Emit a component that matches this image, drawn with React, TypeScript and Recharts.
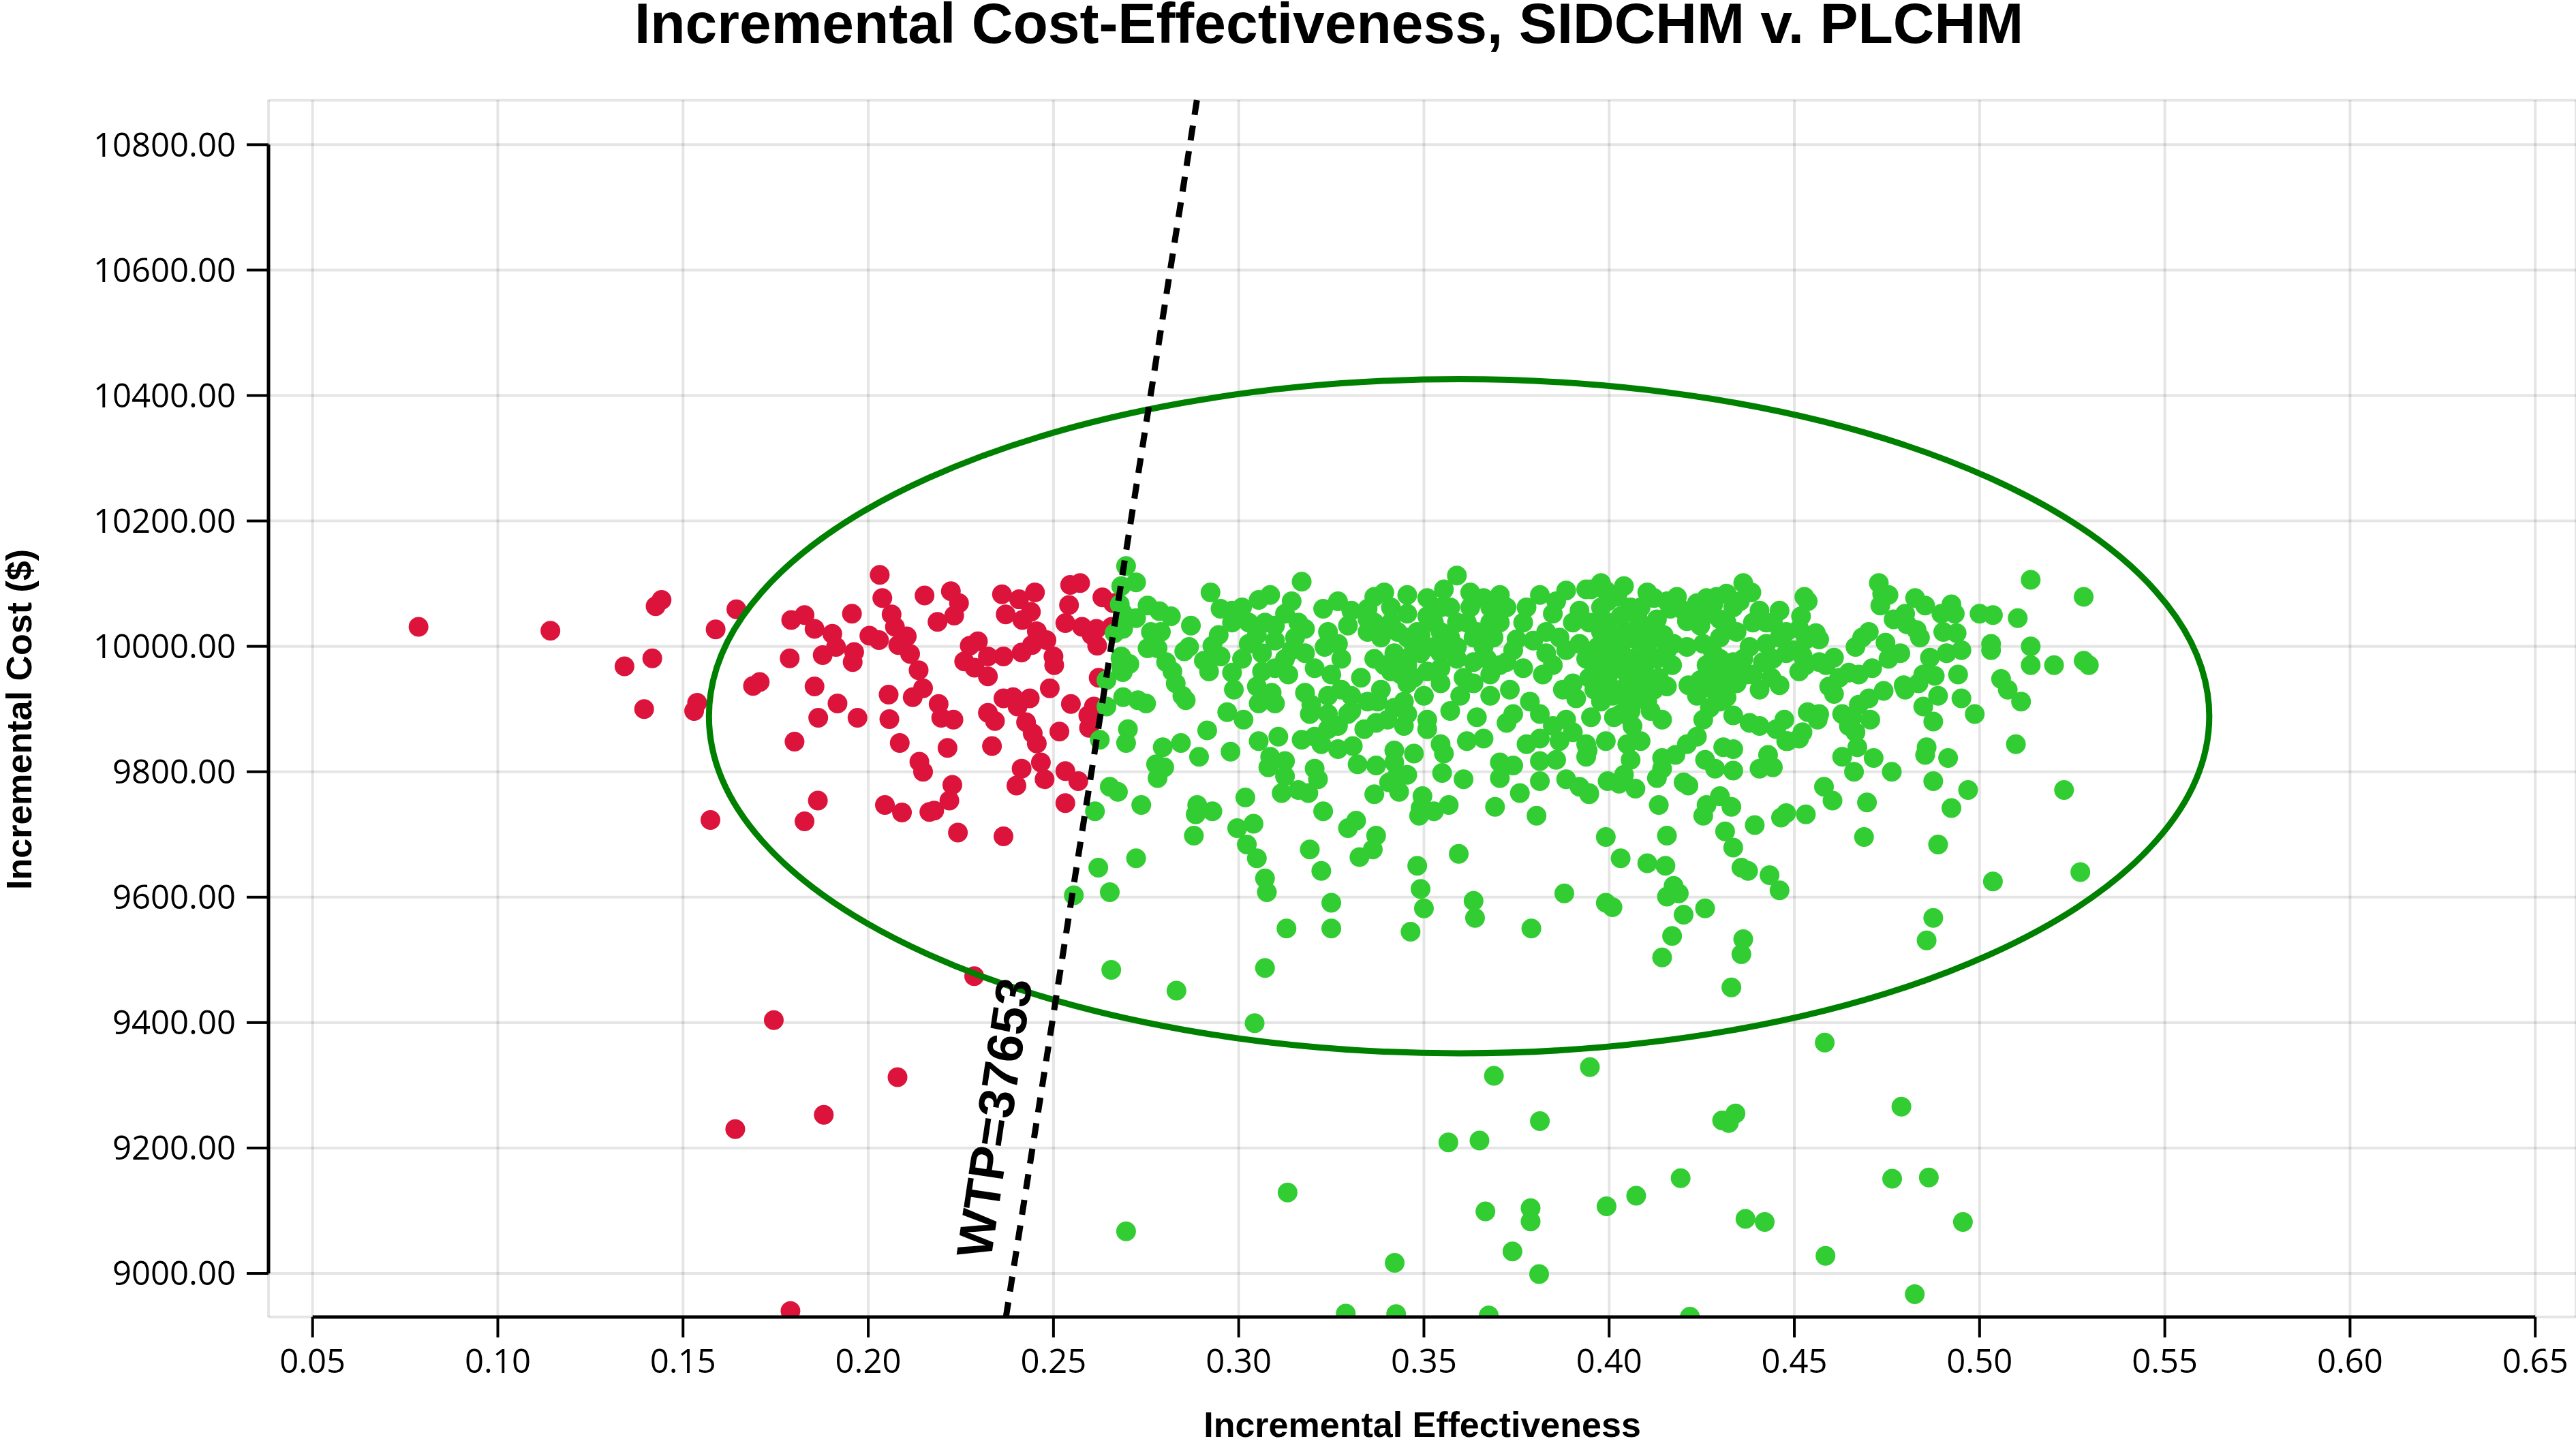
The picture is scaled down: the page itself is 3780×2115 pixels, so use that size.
import {
  CartesianGrid,
  ReferenceArea,
  ReferenceDot,
  ReferenceLine,
  Scatter,
  ScatterChart,
  XAxis,
  YAxis,
} from "recharts";

// incremental effectiveness / incremental cost pairs
// red = above the willingness-to-pay line, green = below it
const redPoints: [number, number][] = [
  [0.0786, 10031], [0.1142, 10025], [0.1442, 10074], [0.1426, 10064], [0.1342, 9968],
  [0.1417, 9981], [0.1395, 9900], [0.1538, 9910], [0.1530, 9897], [0.1644, 10059],
  [0.1588, 10027], [0.1689, 9937], [0.1707, 9943], [0.1792, 10042], [0.1828, 10050],
  [0.1855, 10028], [0.1903, 10020], [0.1956, 10052], [0.2031, 10114], [0.2038, 10077],
  [0.2063, 10051], [0.2072, 10031], [0.2104, 10016], [0.2003, 10017], [0.2029, 10010],
  [0.2081, 10002], [0.2152, 10081], [0.2223, 10088], [0.2245, 10069], [0.2232, 10049],
  [0.2187, 10039], [0.2361, 10083], [0.2407, 10075], [0.2450, 10086], [0.2545, 10098],
  [0.2542, 10066], [0.2632, 10078], [0.2371, 10051], [0.2416, 10042], [0.2439, 10055],
  [0.2532, 10037], [0.2577, 10031], [0.2616, 10028], [0.2657, 10031], [0.2455, 10024],
  [0.2481, 10010], [0.2442, 10002], [0.1913, 9999], [0.1877, 9986], [0.1962, 9991],
  [0.1958, 9975], [0.1788, 9981], [0.2113, 9988], [0.2136, 9962], [0.2274, 10001],
  [0.2296, 10008], [0.2259, 9976], [0.2287, 9966], [0.2323, 9952], [0.2323, 9984],
  [0.2365, 9984], [0.2414, 9990], [0.2500, 9984], [0.2502, 9970], [0.2618, 10001],
  [0.2622, 9950], [0.1855, 9936], [0.2148, 9933], [0.2055, 9923], [0.2120, 9919],
  [0.1917, 9909], [0.1865, 9886], [0.1971, 9886], [0.2057, 9884], [0.2190, 9908],
  [0.2197, 9886], [0.2230, 9883], [0.2365, 9917], [0.2391, 9919], [0.2403, 9904],
  [0.2436, 9917], [0.2323, 9894], [0.2342, 9881], [0.2426, 9879], [0.2444, 9861],
  [0.2455, 9845], [0.2490, 9933], [0.2547, 9908], [0.2609, 9904], [0.2594, 9890],
  [0.2596, 9870], [0.2516, 9864], [0.1801, 9848], [0.2085, 9846], [0.2214, 9838],
  [0.2334, 9841], [0.2138, 9816], [0.2148, 9800], [0.2227, 9779], [0.2219, 9754],
  [0.2178, 9738], [0.2165, 9736], [0.2091, 9735], [0.2045, 9747], [0.2414, 9805],
  [0.2400, 9778], [0.2466, 9815], [0.2476, 9788], [0.2532, 9801], [0.2567, 9785],
  [0.2532, 9750], [0.1864, 9754], [0.1828, 9721], [0.1574, 9723], [0.2242, 9703],
  [0.2365, 9697], [0.2661, 10069], [0.2603, 10018], [0.2572, 10101],
  [0.2286, 9474], [0.2079, 9313], [0.1745, 9404], [0.1641, 9230], [0.1880, 9253],
  [0.1790, 8940],
];

const greenPoints: [number, number][] = [
  // next to the WTP line
  [0.2696, 10128], [0.2723, 10102], [0.2683, 10096], [0.2679, 10067], [0.2754, 10065],
  [0.2786, 10056], [0.2817, 10048], [0.2723, 10045], [0.2688, 10028], [0.2665, 10021],
  [0.2763, 10023], [0.2790, 10023], [0.2754, 9997], [0.2781, 9997], [0.2683, 9984],
  [0.2705, 9972], [0.2683, 9965], [0.2804, 9975], [0.2821, 9960], [0.2830, 9941],
  [0.2643, 9946], [0.2848, 9921], [0.2857, 9914], [0.2688, 9919], [0.2728, 9914],
  [0.2750, 9909], [0.2643, 9904], [0.2701, 9868], [0.2696, 9846], [0.2625, 9851],
  [0.2795, 9839], [0.2844, 9846], [0.2777, 9812], [0.2799, 9807], [0.2781, 9790],
  [0.2915, 9866], [0.2893, 9824], [0.2978, 9832], [0.2652, 9776], [0.2674, 9768],
  [0.2737, 9747], [0.2612, 9737], [0.2888, 9747], [0.2884, 9732], [0.2929, 9737],
  [0.2879, 9698], [0.3018, 9759], [0.2996, 9710], [0.3040, 9717], [0.3022, 9684],
  [0.3049, 9662], [0.3071, 9630], [0.3076, 9608], [0.2723, 9662], [0.2621, 9647],
  [0.2652, 9608], [0.2656, 9484], [0.2555, 9603], [0.2687, 10053], [0.2681, 9981],
  [0.2687, 9959],
  // 0.29 - 0.40
  [0.2924, 10086], [0.2871, 10033], [0.2951, 10060], [0.3009, 10062], [0.3054, 10074],
  [0.3085, 10082], [0.3027, 10038], [0.3049, 10018], [0.2946, 10018], [0.2929, 10001],
  [0.2866, 9999], [0.2853, 9992], [0.2906, 9977], [0.2920, 9960], [0.2951, 9984],
  [0.2982, 9958], [0.3009, 9980], [0.2987, 9931], [0.2969, 9895], [0.3013, 9883],
  [0.3054, 9909], [0.3098, 9909], [0.3089, 9926], [0.3049, 9936], [0.3063, 9989],
  [0.3098, 10009], [0.3125, 10052], [0.3161, 10038], [0.3179, 10028], [0.3152, 10014],
  [0.3125, 9980], [0.3134, 9955], [0.3170, 10103], [0.3205, 9965], [0.3179, 9926],
  [0.3196, 9907], [0.3192, 9892], [0.3228, 10060], [0.3268, 10072], [0.3241, 10023],
  [0.3268, 10004], [0.3295, 10033], [0.3304, 10057], [0.3348, 10060], [0.3366, 10079],
  [0.3393, 10086], [0.3250, 9955], [0.3277, 9931], [0.3304, 9921], [0.3268, 9873],
  [0.3241, 9892], [0.3304, 9897], [0.3330, 9950], [0.3339, 9868], [0.3371, 9878],
  [0.3402, 9883], [0.3446, 9873], [0.3384, 9931], [0.3411, 9960], [0.3446, 9980],
  [0.3482, 10023], [0.3455, 10052], [0.3509, 10077], [0.3554, 10091], [0.3589, 10113],
  [0.3625, 10086], [0.3661, 10077], [0.3705, 10082], [0.3723, 10062], [0.3616, 10038],
  [0.3571, 10014], [0.3527, 10038], [0.3491, 9989], [0.3509, 9960], [0.3473, 9950],
  [0.3500, 9921], [0.3446, 9912], [0.3375, 9912], [0.3420, 9834], [0.3473, 9829],
  [0.3509, 9883], [0.3509, 9868], [0.3545, 9844], [0.3554, 9829], [0.3571, 9897],
  [0.3643, 9887], [0.3616, 9849], [0.3661, 9853], [0.3598, 9921], [0.3634, 9941],
  [0.3670, 9980], [0.3705, 9970], [0.3741, 9994], [0.3679, 9921], [0.3732, 9931],
  [0.3723, 9878], [0.3741, 9892], [0.3786, 9912], [0.3813, 9892], [0.3848, 9873],
  [0.3884, 9883], [0.3777, 9844], [0.3813, 9853], [0.3866, 9849], [0.3902, 9863],
  [0.3938, 9844], [0.3938, 9824], [0.3857, 9819], [0.3813, 9817], [0.3741, 9810],
  [0.3705, 9815], [0.3705, 9790], [0.3759, 9766], [0.3813, 9785], [0.3884, 9788],
  [0.3920, 9776], [0.3946, 9766], [0.3804, 9730], [0.3692, 9744], [0.3750, 10011],
  [0.3768, 10038], [0.3813, 10082], [0.3884, 10089], [0.3938, 10091], [0.3920, 10057],
  [0.3848, 10052], [0.3830, 10023], [0.3795, 10009], [0.3884, 9994], [0.3920, 10004],
  [0.3938, 9980], [0.3848, 9970], [0.3821, 9955], [0.3902, 9941], [0.3911, 9917],
  [0.3411, 10038], [0.3455, 10014], [0.3545, 10062], [0.3589, 10038], [0.3634, 10014],
  [0.3679, 10038], [0.3545, 9989], [0.3589, 9980], [0.3634, 9975], [0.3420, 9989],
  [0.3366, 9980], [0.3348, 10023], [0.3679, 10062], [0.3455, 10082], [0.3545, 10023],
  [0.3455, 9941], [0.3545, 9941], [0.3679, 9955], [0.3143, 10072], [0.3098, 10033],
  [0.3277, 9980], [0.3232, 9999],
  [0.3348, 10043], [0.3384, 10014], [0.3411, 10062], [0.3429, 10023], [0.3455, 9970],
  [0.3473, 9999], [0.3509, 10048], [0.3527, 9999], [0.3545, 9965], [0.3571, 10062],
  [0.3589, 9999], [0.3607, 9950], [0.3625, 10062], [0.3643, 10023], [0.3661, 9999],
  [0.3688, 10014], [0.3705, 10038], [0.3723, 9975], [0.3491, 10018], [0.3438, 9955],
  [0.3393, 9970], [0.3366, 10038], [0.2982, 10057], [0.3027, 10004], [0.3071, 10038],
  [0.3098, 9965], [0.3143, 9994], [0.3179, 9989], [0.3063, 9960], [0.2982, 10038],
  [0.3777, 10062], [0.3857, 10072], [0.3902, 10038], [0.3946, 10038], [0.3866, 10014],
  [0.3946, 9950], [0.3875, 9931], [0.3830, 9989], [0.3768, 9965], [0.3241, 9921],
  [0.3295, 9892], [0.3348, 9912], [0.3420, 9902], [0.3455, 9892], [0.3241, 9868],
  [0.3054, 9849], [0.3107, 9856], [0.3085, 9824], [0.3125, 9817], [0.3080, 9807],
  [0.3125, 9793], [0.3116, 9766], [0.3161, 9771], [0.3188, 9766], [0.3205, 9805],
  [0.3214, 9788], [0.3170, 9851], [0.3205, 9856], [0.3223, 9844], [0.3268, 9836],
  [0.3308, 9841], [0.3321, 9812], [0.3371, 9810], [0.3366, 9764], [0.3420, 9815],
  [0.3429, 9795], [0.3433, 9768], [0.3406, 9783], [0.3455, 9795], [0.3496, 9761],
  [0.3491, 9742], [0.3487, 9730], [0.3527, 9737], [0.3567, 9747], [0.3549, 9798],
  [0.3607, 9788], [0.3228, 9737], [0.3295, 9710], [0.3317, 9722], [0.3371, 9698],
  [0.3362, 9676], [0.3326, 9664],
  [0.3071, 9487], [0.3129, 9550], [0.3250, 9550], [0.3250, 9591], [0.3223, 9642],
  [0.3192, 9676], [0.3464, 9545], [0.3482, 9650], [0.3491, 9613], [0.3500, 9582],
  [0.3634, 9594], [0.3638, 9567], [0.3594, 9669], [0.3790, 9550], [0.3879, 9606],
  // 0.39 - 0.53
  [0.3951, 10091], [0.3991, 10089], [0.4022, 10079], [0.4058, 10062], [0.4085, 10062],
  [0.4121, 10077], [0.4183, 10079], [0.4165, 10060], [0.4129, 10043], [0.4094, 10033],
  [0.4049, 10023], [0.4004, 10018], [0.3960, 10038], [0.3969, 9999], [0.4013, 9989],
  [0.4058, 9980], [0.4103, 9999], [0.4147, 10018], [0.4156, 9994], [0.4170, 9970],
  [0.4129, 9980], [0.4094, 9965], [0.4049, 9955], [0.3996, 9950], [0.3960, 9931],
  [0.4009, 9921], [0.4058, 9926], [0.4089, 9921], [0.4134, 9950], [0.4156, 9936],
  [0.4112, 9897], [0.4143, 9883], [0.4058, 9897], [0.4013, 9887], [0.3951, 9887],
  [0.4063, 9873], [0.4085, 9849], [0.4049, 9844], [0.3991, 9849], [0.4058, 9819],
  [0.3942, 9834], [0.3996, 9785], [0.4027, 9781], [0.4071, 9773], [0.4040, 9795],
  [0.3946, 9764], [0.4129, 9790], [0.4134, 9747], [0.4143, 9805], [0.4143, 9822],
  [0.4179, 9827], [0.4210, 9844], [0.4237, 9856], [0.4201, 9783], [0.4214, 9778],
  [0.4259, 9819], [0.4286, 9805], [0.4335, 9802], [0.4308, 9839], [0.4335, 9836],
  [0.4406, 9805], [0.4442, 9807], [0.4429, 9827], [0.4482, 9849], [0.4513, 9853],
  [0.4522, 9863], [0.4567, 9892], [0.4563, 9883], [0.4536, 9895], [0.4629, 9892],
  [0.4656, 9887], [0.4647, 9873], [0.4705, 9883], [0.4665, 9863], [0.4670, 9839],
  [0.4629, 9824], [0.4661, 9800], [0.4714, 9822], [0.4763, 9800], [0.4696, 9751],
  [0.4688, 9696], [0.4603, 9754], [0.4580, 9776], [0.4464, 9727], [0.4478, 9734],
  [0.4531, 9732], [0.4393, 9715], [0.4335, 9679], [0.4313, 9705], [0.4299, 9761],
  [0.4254, 9730], [0.4263, 9747], [0.4330, 9744], [0.4156, 9698], [0.3991, 9696],
  [0.4031, 9662], [0.4103, 9654], [0.4152, 9650], [0.4174, 9618], [0.4156, 9601],
  [0.4188, 9606], [0.3991, 9591], [0.4009, 9584], [0.4201, 9572], [0.4259, 9582],
  [0.4170, 9538], [0.4143, 9504], [0.4362, 9533], [0.4357, 9509], [0.4357, 9647],
  [0.4375, 9642], [0.4433, 9635], [0.4460, 9611],
  [0.4210, 10040], [0.4237, 10069], [0.4263, 10077], [0.4290, 10079], [0.4317, 10084],
  [0.4362, 10101], [0.4384, 10086], [0.4406, 10057], [0.4460, 10057], [0.4518, 10048],
  [0.4527, 10079], [0.4536, 10072], [0.4335, 10062], [0.4299, 10043], [0.4246, 10033],
  [0.4210, 9999], [0.4254, 10004], [0.4299, 10014], [0.4344, 10023], [0.4379, 9999],
  [0.4424, 10004], [0.4460, 10014], [0.4496, 9994], [0.4531, 10011], [0.4558, 10021],
  [0.4567, 10011], [0.4478, 9989], [0.4415, 9975], [0.4371, 9955], [0.4335, 9975],
  [0.4299, 9980], [0.4263, 9970], [0.4246, 9946], [0.4214, 9938], [0.4281, 9931],
  [0.4317, 9919], [0.4344, 9941], [0.4272, 9902], [0.4254, 9883], [0.4335, 9890],
  [0.4379, 9878], [0.4406, 9873], [0.4438, 9950], [0.4460, 9938], [0.4513, 9960],
  [0.4531, 9970], [0.4567, 9975], [0.4607, 9982], [0.4585, 9970], [0.4621, 9950],
  [0.4594, 9936], [0.4607, 9924], [0.4647, 9958], [0.4674, 9955], [0.4710, 9965],
  [0.4683, 10014], [0.4701, 10023], [0.4665, 9999], [0.4746, 10006], [0.4754, 9980],
  [0.4786, 9989], [0.4728, 10101], [0.4737, 10084], [0.4754, 10082], [0.4732, 10065],
  [0.4768, 10043], [0.4804, 10035], [0.4826, 10077], [0.4853, 10065], [0.4799, 10052],
  [0.4830, 10026], [0.4839, 10014], [0.4866, 9982], [0.4911, 9989], [0.4951, 9994],
  [0.4902, 10023], [0.4924, 10067], [0.4933, 10052], [0.4897, 10052], [0.4938, 10021],
  [0.4942, 9955], [0.4879, 9953], [0.4848, 9955], [0.4795, 9938], [0.4799, 9931],
  [0.4835, 9941], [0.4888, 9921], [0.4951, 9917], [0.4848, 9904], [0.4875, 9880],
  [0.5058, 9948], [0.5076, 9931], [0.5112, 9912], [0.4987, 9892], [0.4741, 9929],
  [0.4701, 9917], [0.4674, 9907], [0.4473, 9883], [0.4451, 9868], [0.4478, 9849],
  [0.4857, 9839], [0.4853, 9827], [0.4915, 9822], [0.4875, 9785], [0.4969, 9771],
  [0.4924, 9742], [0.4888, 9684], [0.5036, 9625], [0.5272, 9640], [0.5228, 9771],
  [0.5098, 9844], [0.5000, 10052], [0.5036, 10050], [0.5103, 10045], [0.5138, 10106],
  [0.5281, 10079], [0.5031, 10004], [0.5031, 9994], [0.5138, 10000], [0.5138, 9970],
  [0.5201, 9970], [0.5281, 9977], [0.5295, 9970], [0.4875, 9567], [0.4857, 9531],
  [0.3978, 10062], [0.4031, 10048], [0.3996, 10038], [0.4076, 10009], [0.4031, 9999],
  [0.3987, 9980], [0.4112, 10023], [0.4022, 9965], [0.3960, 9965], [0.4076, 9941],
  [0.4031, 9931], [0.3978, 9912], [0.4103, 9950], [0.3996, 10072], [0.4076, 10048],
  [0.4049, 9912], [0.4326, 9955], [0.4299, 9955], [0.4317, 10038], [0.4388, 10038],
  [0.4442, 10038], [0.4272, 10052], [0.4299, 9931], [0.4281, 9960],
  [0.3978, 10101], [0.4040, 10096], [0.4103, 10086], [0.4156, 10072], [0.4201, 10057],
  [0.3978, 10023], [0.4031, 10018], [0.4121, 10014], [0.4174, 10004], [0.3987, 9999],
  [0.4085, 9980], [0.4040, 9970], [0.3996, 9931], [0.4121, 9931], [0.4103, 9912],
  [0.4031, 9892], [0.4246, 10057], [0.4281, 10067], [0.4353, 10072], [0.4424, 10038],
  [0.4478, 10023], [0.4513, 10028], [0.4281, 9989], [0.4362, 9980], [0.4388, 9955],
  [0.4442, 9980], [0.4406, 9931], [0.4237, 9921], [0.4299, 9912], [0.4522, 9985],
  // outliers under the ellipse
  [0.2832, 9451], [0.3043, 9399], [0.4330, 9456], [0.4582, 9368], [0.3948, 9329],
  [0.3689, 9315], [0.3813, 9243], [0.4305, 9244], [0.4341, 9255], [0.4323, 9240],
  [0.4789, 9266], [0.3566, 9209], [0.3650, 9212], [0.3132, 9129], [0.4193, 9152],
  [0.4073, 9124], [0.3993, 9107], [0.3666, 9099], [0.3788, 9104], [0.3788, 9083],
  [0.4368, 9087], [0.4420, 9082], [0.4764, 9151], [0.4863, 9153], [0.4955, 9082],
  [0.2696, 9067], [0.3739, 9035], [0.3421, 9017], [0.3811, 8999], [0.4584, 9028],
  [0.4825, 8967], [0.3289, 8936], [0.3425, 8935], [0.3675, 8933], [0.4218, 8931],
];

const xTicks = [0.05, 0.1, 0.15, 0.2, 0.25, 0.3, 0.35, 0.4, 0.45, 0.5, 0.55, 0.6, 0.65];
const yTicks = [9000, 9200, 9400, 9600, 9800, 10000, 10200, 10400, 10600, 10800];

const X_MIN = 0.0381;
const X_MAX = 0.661;
const Y_MIN = 8930.5;
const Y_MAX = 10871;
const WTP = 37653;

// ellipse drawn round the main cloud
const ellipseX = [0.157, 0.562];
const ellipseY = [9351, 10426];

const redData = redPoints.map(([x, y]) => ({ x, y }));
const greenData = greenPoints.map(([x, y]) => ({ x, y }));

const tickStyle = { fill: "#000", fontSize: 49, fontFamily: "'Open Sans', 'Noto Sans', sans-serif" };
const labelFont = "'Liberation Sans', Arial, sans-serif";

const dot = (color: string) => (props: any) => (
  <circle cx={props.cx} cy={props.cy} r={14.5} fill={color} />
);

const EllipseShape = (props: any) => (
  <ellipse
    cx={props.x + props.width / 2}
    cy={props.y + props.height / 2}
    rx={props.width / 2}
    ry={props.height / 2}
    fill="none"
    stroke="#008000"
    strokeWidth={9}
  />
);

const WtpLabel = (props: any) => (
  <text
    x={props.cx}
    y={props.cy}
    transform={`rotate(-81.5, ${props.cx}, ${props.cy})`}
    textAnchor="middle"
    dominantBaseline="central"
    fontFamily={labelFont}
    fontWeight="bold"
    fontSize={74}
    fill="#000"
  >
    WTP={WTP}
  </text>
);

const XLabel = (props: any) => {
  const vb = props.viewBox;
  return (
    <text x={vb.x + vb.width / 2} y={vb.y + vb.height - 6} textAnchor="middle"
      fontFamily={labelFont} fontWeight="bold" fontSize={52} fill="#000">
      Incremental Effectiveness
    </text>
  );
};

const YLabel = (props: any) => {
  const vb = props.viewBox;
  const cy = vb.y + vb.height / 2 + 16;
  return (
    <text x={46} y={cy} transform={`rotate(-90, 46, ${cy})`} textAnchor="middle"
      fontFamily={labelFont} fontWeight="bold" fontSize={52} fill="#000">
      Incremental Cost ($)
    </text>
  );
};

export default function App() {
  return (
    <div style={{ position: "absolute", left: 0, top: 0, width: 3780, height: 2115, background: "#fff" }}>
      <div
        style={{
          position: "absolute",
          left: 1950,
          top: 4,
          transform: "translateX(-50%)",
          fontFamily: labelFont,
          fontWeight: "bold",
          fontSize: 84,
          lineHeight: "60px",
          whiteSpace: "nowrap",
          color: "#000",
        }}
      >
        Incremental Cost-Effectiveness, SIDCHM v. PLCHM
      </div>
      <ScatterChart width={3780} height={2115} margin={{ top: 147, right: 0, bottom: 0, left: 0 }}>
        <CartesianGrid stroke="#000" strokeOpacity={0.1} strokeWidth={4} />
        <XAxis
          type="number"
          dataKey="x"
          domain={[X_MIN, X_MAX]}
          allowDataOverflow
          ticks={xTicks}
          interval={0}
          height={182}
          axisLine={false}
          tickLine={{ stroke: "#000", strokeWidth: 4 }}
          tickSize={30}
          tickMargin={17}
          tick={tickStyle}
          tickFormatter={(v: number) => v.toFixed(2)}
          label={{ content: XLabel }}
        />
        <YAxis
          type="number"
          dataKey="y"
          domain={[Y_MIN, Y_MAX]}
          allowDataOverflow
          ticks={yTicks}
          interval={0}
          width={394}
          axisLine={false}
          tickLine={{ stroke: "#000", strokeWidth: 4 }}
          tickSize={32}
          tickMargin={16}
          tick={tickStyle}
          tickFormatter={(v: number) => v.toFixed(2)}
          label={{ content: YLabel }}
        />
        <Scatter data={redData} shape={dot("#DC143C")} isAnimationActive={false} />
        <Scatter data={greenData} shape={dot("#32CD32")} isAnimationActive={false} />
        <ReferenceArea
          x1={ellipseX[0]}
          x2={ellipseX[1]}
          y1={ellipseY[0]}
          y2={ellipseY[1]}
          shape={EllipseShape}
          zIndex={1500}
        />
        <ReferenceLine
          segment={[{ x: Y_MIN / WTP, y: Y_MIN }, { x: Y_MAX / WTP, y: Y_MAX }]}
          stroke="#000"
          strokeWidth={9}
          strokeDasharray="22 16"
          ifOverflow="visible"
          zIndex={1600}
        />
        <ReferenceLine
          segment={[{ x: 0.05, y: Y_MIN }, { x: 0.65, y: Y_MIN }]}
          stroke="#000"
          strokeWidth={5}
          ifOverflow="visible"
          zIndex={1600}
        />
        <ReferenceLine
          segment={[{ x: X_MIN, y: 9000 }, { x: X_MIN, y: 10800 }]}
          stroke="#000"
          strokeWidth={5}
          ifOverflow="visible"
          zIndex={1600}
        />
        <ReferenceDot x={0.2341} y={9248} r={0} shape={WtpLabel} ifOverflow="visible" zIndex={2100} />
      </ScatterChart>
    </div>
  );
}
